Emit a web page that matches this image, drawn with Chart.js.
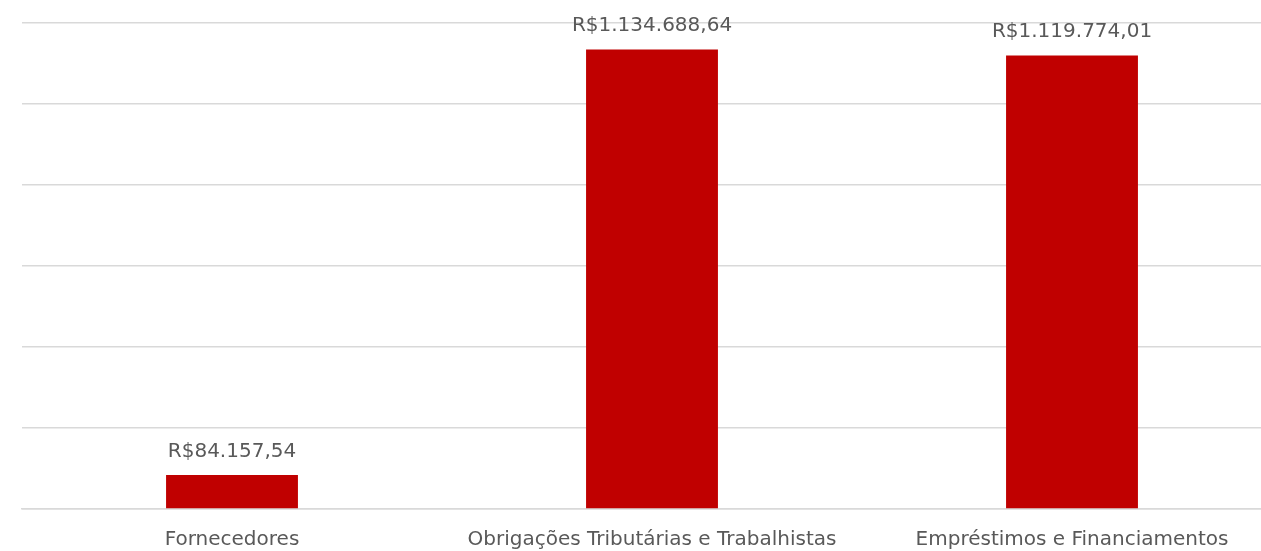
<!DOCTYPE html>
<html>
<head>
<meta charset="utf-8">
<script src="https://cdn.jsdelivr.net/npm/chart.js@4/dist/chart.umd.min.js"></script>
<style>
  html, body { margin: 0; padding: 0; background: #fff; overflow: hidden; }
  #wrap { width: 1290px; height: 551px; position: relative; }
</style>
</head>
<body>
<div id="wrap"><canvas id="grafico"></canvas></div>
<script>
// Dados do gráfico
const categorias = ["Fornecedores", "Obrigações Tributárias e Trabalhistas", "Empréstimos e Financiamentos"];
const valores = [84157.54, 1134688.64, 1119774.01];
const eixoMax = 1200000;
const eixoPasso = 200000;

const fonte = '"DejaVu Sans", sans-serif';
const cinza = "#595959";

// formata no padrão R$1.234,56
function moeda(v) {
  const [int, dec] = v.toFixed(2).split(".");
  return "R$" + int.replace(/\B(?=(\d{3})+(?!\d))/g, ".") + "," + dec;
}

const rotulos = {
  id: "rotulos",
  afterDatasetsDraw(chart) {
    const ctx = chart.ctx;
    const meta = chart.getDatasetMeta(0);
    ctx.save();
    ctx.font = "20px " + fonte;
    ctx.fillStyle = cinza;
    ctx.textAlign = "center";
    ctx.textBaseline = "alphabetic";
    meta.data.forEach((bar, i) => {
      ctx.fillText(moeda(valores[i]), bar.x, bar.y - 18);
    });
    ctx.restore();
  }
};

new Chart(document.getElementById("grafico"), {
  type: "bar",
  data: {
    labels: categorias,
    datasets: [{
      data: valores,
      backgroundColor: "#C00000",
      categoryPercentage: 1,
      barPercentage: 0.314
    }]
  },
  options: {
    responsive: true,
    maintainAspectRatio: false,
    animation: false,
    layout: { padding: { left: 22, right: 8, top: 23, bottom: 0 } },
    plugins: { legend: { display: false }, tooltip: { enabled: false } },
    scales: {
      x: {
        grid: { display: false },
        border: { color: "#d9d9d9", width: 1.5 },
        ticks: { color: cinza, font: { family: fonte, size: 20 }, padding: 11, maxRotation: 0 },
        afterFit: axis => { axis.height = 42; }
      },
      y: {
        min: 0,
        max: eixoMax,
        ticks: { display: false, stepSize: eixoPasso },
        grid: { color: "#d9d9d9", lineWidth: 1.5, drawTicks: false },
        border: { display: false }
      }
    }
  },
  plugins: [rotulos]
});
</script>
</body>
</html>
